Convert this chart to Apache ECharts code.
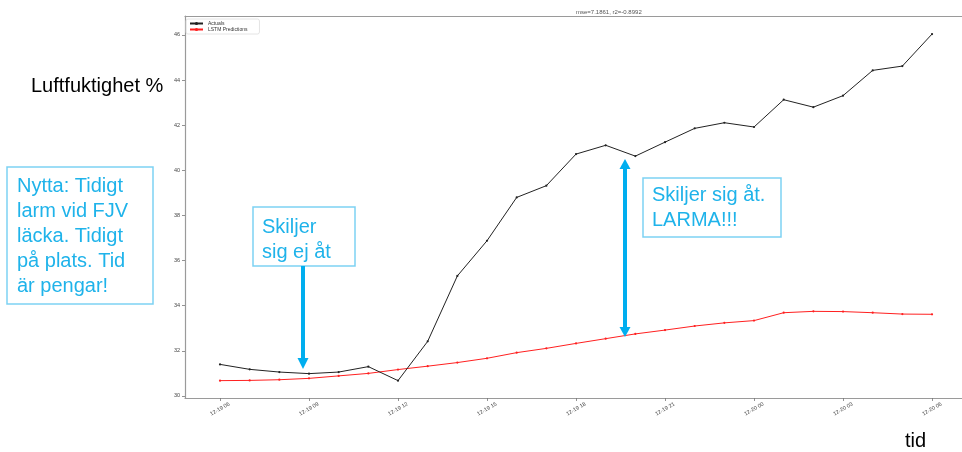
<!DOCTYPE html>
<html>
<head>
<meta charset="utf-8">
<script src="https://cdn.jsdelivr.net/npm/echarts@6/dist/echarts.min.js"></script>
<style>
html,body{margin:0;padding:0;background:#fff;}
#main{width:962px;height:452px;}
</style>
</head>
<body>
<div id="main"></div>
<script>
// hours since 12-19 06:00
const hours = [0,1,2,3,4,5,6,7,8,9,10,11,12,13,14,15,16,17,18,19,20,21,22,23,24];
const actuals = [31.40,31.18,31.06,30.99,31.06,31.30,30.68,32.42,35.32,36.88,38.80,39.32,40.72,41.11,40.63,41.25,41.86,42.11,41.92,43.13,42.80,43.31,44.43,44.62,46.04];
const predictions = [30.68,30.69,30.72,30.78,30.89,31.00,31.17,31.32,31.48,31.67,31.92,32.11,32.33,32.54,32.75,32.92,33.10,33.24,33.34,33.69,33.75,33.74,33.69,33.63,33.62];
const xTickHours = [0,3,6,9,12,15,18,21,24];
const xTickLabels = ["12-19 06","12-19 09","12-19 12","12-19 15","12-19 18","12-19 21","12-20 00","12-20 03","12-20 06"];
const yTicks = [30,32,34,36,38,40,42,44,46];
const titleText = "mse=7.1861, r2=-0.8992";

const chart = echarts.init(document.getElementById('main'), null, {renderer:'canvas'});
const FONT = '"Liberation Sans", Arial, sans-serif';
const blueText = '#1fb3ea';
const blueBorder = '#7dd2f3';
const arrowBlue = '#00aeef';
const spine = {show:true, onZero:false, lineStyle:{color:'#9a9a9a', width:1.2}};

function pairs(ys){ return hours.map((h,i)=>[h, ys[i]]); }

const option = {
  animation:false,
  backgroundColor:'#fff',
  grid:{left:185, top:16, width:777, height:382, show:false},
  xAxis:[{
    type:'value', min:-1.18, max:25.01,
    splitLine:{show:false},
    axisLine:spine,
    axisTick:{show:true, customValues:xTickHours, length:3, lineStyle:{color:'#777', width:0.8}},
    axisLabel:{
      customValues:xTickHours,
      formatter:(v)=>{const i=xTickHours.indexOf(v); return i>=0?xTickLabels[i]:'';},
      rotate:30, fontSize:5.5, color:'#444', fontFamily:FONT, margin:11,
      align:'center', verticalAlign:'middle'
    }
  },{
    type:'value', position:'top', min:-1.18, max:25.01,
    splitLine:{show:false}, axisLine:spine, axisTick:{show:false}, axisLabel:{show:false}
  }],
  yAxis:{
    type:'value', min:29.91, max:46.84,
    splitLine:{show:false},
    axisLine:spine,
    axisTick:{show:true, customValues:yTicks, length:3, lineStyle:{color:'#777', width:0.8}},
    axisLabel:{customValues:yTicks, fontSize:5.5, color:'#444', fontFamily:FONT, margin:5}
  },
  legend:{
    orient:'vertical', left:186, top:19, itemGap:1, itemWidth:13, itemHeight:4,
    textStyle:{fontSize:5, color:'#333', fontFamily:FONT},
    borderColor:'#ddd', borderWidth:0.8, borderRadius:2, padding:[2,12,2,3],
    data:['Actuals','LSTM Predictions']
  },
  series:[
    {name:'Actuals', type:'line', data:pairs(actuals), symbol:'circle', symbolSize:2.2,
     lineStyle:{color:'#222', width:1}, itemStyle:{color:'#222'}, z:3},
    {name:'LSTM Predictions', type:'line', data:pairs(predictions), symbol:'circle', symbolSize:2.2,
     lineStyle:{color:'#ff2020', width:1}, itemStyle:{color:'#ff2020'}, z:2}
  ],
  graphic:[
    {type:'text', left:576, top:9, style:{text:titleText, font:'6px '+FONT, fill:'#555', textAlign:'center'}},
    {type:'text', x:31, y:86, style:{text:'Luftfuktighet %', font:'20px '+FONT, fill:'#000', textVerticalAlign:'middle'}},
    {type:'text', x:905, y:441, style:{text:'tid', font:'20px '+FONT, fill:'#000', textVerticalAlign:'middle'}},
    // left box
    {type:'rect', shape:{x:7, y:167, width:146, height:137}, style:{fill:'#fff', stroke:blueBorder, lineWidth:1.5}, z:10},
    {type:'text', x:17, y:174, z:11, style:{text:'Nytta: Tidigt\nlarm vid FJV\nläcka. Tidigt\npå plats. Tid\när pengar!', font:'20px '+FONT, fill:blueText, lineHeight:25, textVerticalAlign:'top'}},
    // box 2
    {type:'rect', shape:{x:253, y:207, width:102, height:59}, style:{fill:'#fff', stroke:blueBorder, lineWidth:1.5}, z:10},
    {type:'text', x:262, y:215, z:11, style:{text:'Skiljer\nsig ej åt', font:'20px '+FONT, fill:blueText, lineHeight:25, textVerticalAlign:'top'}},
    {type:'line', shape:{x1:303, y1:266, x2:303, y2:360}, style:{stroke:arrowBlue, lineWidth:4}, z:12},
    {type:'polygon', shape:{points:[[297.5,358],[308.5,358],[303,369]]}, style:{fill:arrowBlue}, z:12},
    // box 3
    {type:'rect', shape:{x:643, y:178, width:138, height:59}, style:{fill:'#fff', stroke:blueBorder, lineWidth:1.5}, z:10},
    {type:'text', x:652, y:183, z:11, style:{text:'Skiljer sig åt.\nLARMA!!!', font:'20px '+FONT, fill:blueText, lineHeight:25, textVerticalAlign:'top'}},
    {type:'line', shape:{x1:625, y1:166, x2:625, y2:330}, style:{stroke:arrowBlue, lineWidth:4}, z:12},
    {type:'polygon', shape:{points:[[619.5,169],[630.5,169],[625,159]]}, style:{fill:arrowBlue}, z:12},
    {type:'polygon', shape:{points:[[619.5,327],[630.5,327],[625,337]]}, style:{fill:arrowBlue}, z:12}
  ]
};
chart.setOption(option);
</script>
</body>
</html>
